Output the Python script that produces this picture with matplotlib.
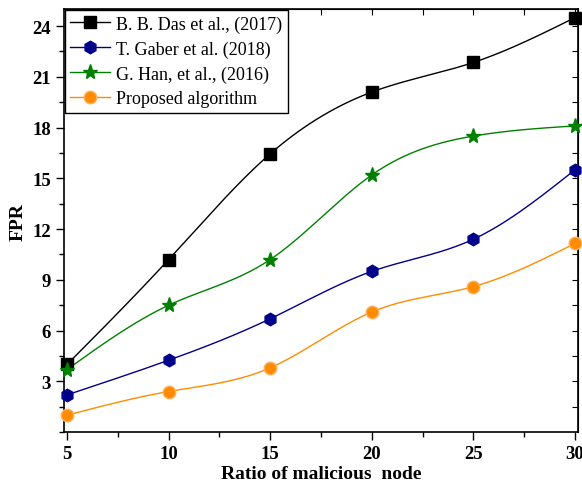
import numpy as np
import matplotlib
matplotlib.use("Agg")
import matplotlib.pyplot as plt
from matplotlib.ticker import MultipleLocator

x = [5, 10, 15, 20, 25, 30]
das = [4.0, 10.2, 16.45, 20.1, 21.85, 24.5]
gaber = [2.2, 4.25, 6.7, 9.5, 11.4, 15.5]
han = [3.7, 7.5, 10.2, 15.2, 17.5, 18.1]
proposed = [1.0, 2.4, 3.8, 7.1, 8.6, 11.15]
labels = ["B. B. Das et al., (2017)", "T. Gaber et al. (2018)",
          "G. Han, et al., (2016)", "Proposed algorithm"]


def natural_spline(xs, ys, n=200):
    xs = np.asarray(xs, float); ys = np.asarray(ys, float)
    m = len(xs); h = np.diff(xs)
    A = np.zeros((m, m)); b = np.zeros(m)
    A[0, 0] = A[-1, -1] = 1
    for i in range(1, m - 1):
        A[i, i - 1] = h[i - 1]; A[i, i] = 2 * (h[i - 1] + h[i]); A[i, i + 1] = h[i]
        b[i] = 6 * ((ys[i + 1] - ys[i]) / h[i] - (ys[i] - ys[i - 1]) / h[i - 1])
    M = np.linalg.solve(A, b)
    xx = np.linspace(xs[0], xs[-1], n)
    idx = np.clip(np.searchsorted(xs, xx) - 1, 0, m - 2)
    x0 = xs[idx]; x1 = xs[idx + 1]; hh = x1 - x0
    t0 = x1 - xx; t1 = xx - x0
    yy = (M[idx] * t0 ** 3 + M[idx + 1] * t1 ** 3) / (6 * hh) \
        + (ys[idx] / hh - M[idx] * hh / 6) * t0 + (ys[idx + 1] / hh - M[idx + 1] * hh / 6) * t1
    return xx, yy


plt.rcParams['font.family'] = ['Liberation Serif', 'DejaVu Serif']
fig = plt.figure(figsize=(5.82, 4.85), dpi=100)
ax = fig.add_axes([0.110, 0.107, 0.883, 0.872])

series = [
    (das, 'black', 's', 'black', 'black', 8),
    (gaber, '#00008b', 'h', '#00008b', '#00008b', 9),
    (han, '#008000', '*', '#008000', '#008000', 11),
    (proposed, '#ff8c00', 'o', '#ff8c00', '#ffb060', 9),
]
handles = []
for (ys, c, mk, mfc, mec, ms), lab in zip(series, labels):
    xx, yy = natural_spline(x, ys)
    ax.plot(xx, yy, color=c, lw=1.0, zorder=2)
    ax.plot(x, ys, linestyle='none', marker=mk, markersize=ms,
            markerfacecolor=mfc, markeredgecolor=mec, zorder=3, clip_on=False)
    h, = ax.plot([], [], color=c, lw=1.0, marker=mk, markersize=ms,
                 markerfacecolor=mfc, markeredgecolor=mec, label=lab)
    handles.append(h)

ax.set_xlim(4.85, 30.15)
ax.set_ylim(0, 25)
ax.xaxis.set_major_locator(MultipleLocator(5))
ax.xaxis.set_minor_locator(MultipleLocator(2.5))
ax.yaxis.set_major_locator(MultipleLocator(3))
ax.yaxis.set_minor_locator(MultipleLocator(1.5))
ax.set_yticks([3, 6, 9, 12, 15, 18, 21, 24])
ax.tick_params(axis='both', which='major', direction='out', length=6, width=1,
               labelsize=13.5)
ax.tick_params(axis='both', which='minor', direction='out', length=3.5, width=1)
for lab in ax.get_xticklabels() + ax.get_yticklabels():
    lab.set_fontweight('bold')

# top/right ticks inward
sec_x = ax.secondary_xaxis('top')
sec_x.set_xticks(np.arange(5, 30.1, 2.5))
sec_x.tick_params(direction='in', length=4, labeltop=False)
sec_y = ax.secondary_yaxis('right')
sec_y.set_yticks(np.arange(1.5, 25, 1.5))
sec_y.tick_params(direction='in', length=4, labelright=False)

for s in ax.spines.values():
    s.set_linewidth(1.2)

ax.set_xlabel('Ratio of malicious  node', fontsize=14, fontweight='bold', labelpad=2)
ax.set_ylabel('FPR', fontsize=14, fontweight='bold', labelpad=4)

leg = ax.legend(handles=handles, loc='upper left', fontsize=13, frameon=True,
                fancybox=False, edgecolor='black', framealpha=1,
                borderaxespad=0.05, handlelength=2.2, handletextpad=0.35,
                labelspacing=0.42, borderpad=0.3)
leg.get_frame().set_linewidth(1.0)

fig.savefig('out.png', dpi=100)
